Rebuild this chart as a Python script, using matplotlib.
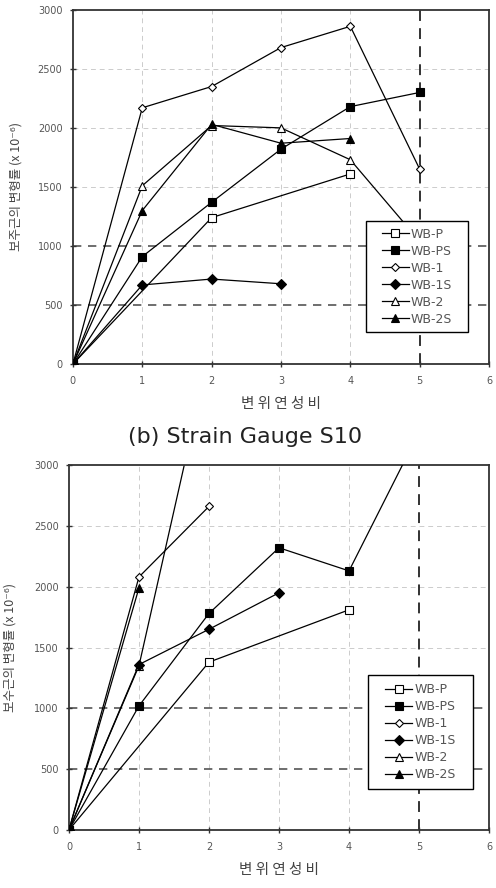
import matplotlib
matplotlib.use("Agg")
import matplotlib.pyplot as plt
from matplotlib.patches import Rectangle

plt.rcParams['font.family'] = ['Noto Sans CJK KR', 'DejaVu Sans']

# upper panel
top_series = {
    "WB-P":  ([0, 2, 4], [0, 1240, 1610]),
    "WB-PS": ([0, 1, 2, 3, 4, 5], [0, 910, 1370, 1820, 2180, 2300]),
    "WB-1":  ([0, 1, 2, 3, 4, 5], [0, 2170, 2350, 2680, 2860, 1650]),
    "WB-1S": ([0, 1, 2, 3], [0, 670, 720, 680]),
    "WB-2":  ([0, 1, 2, 3, 4, 5], [0, 1510, 2020, 2000, 1730, 1040]),
    "WB-2S": ([0, 1, 2, 3, 4], [0, 1300, 2030, 1870, 1910]),
}

# lower panel
bot_series = {
    "WB-P":  ([0, 2, 4], [0, 1380, 1810]),
    "WB-PS": ([0, 1, 2, 3, 4, 5], [0, 1020, 1780, 2320, 2130, 3270]),
    "WB-1":  ([0, 1, 2], [0, 2080, 2660]),
    "WB-1S": ([0, 1, 2, 3], [0, 1360, 1650, 1950]),
    "WB-2":  ([0, 1, 2], [0, 1350, 3900]),
    "WB-2S": ([0, 1], [0, 1990]),
}

styles = {
    "WB-P":  dict(marker="s", mfc="white", ms=5.5, zorder=3),
    "WB-PS": dict(marker="s", mfc="black", ms=6, zorder=3),
    "WB-1":  dict(marker="D", mfc="white", ms=4.5, zorder=3),
    "WB-1S": dict(marker="D", mfc="black", ms=5, zorder=4),
    "WB-2":  dict(marker="^", mfc="white", ms=5.5, zorder=2.5),
    "WB-2S": dict(marker="^", mfc="black", ms=6, zorder=3),
}

xticks = [0, 1, 2, 3, 4, 5, 6]
yticks = [0, 500, 1000, 1500, 2000, 2500, 3000]


def draw_panel(ax, series, ylabel, ylabel_x, box):
    ax.set_xlim(0, 6)
    ax.set_ylim(0, 3000)
    # light grid
    for x in [1, 2, 3, 4]:
        ax.axvline(x, color="#cccccc", lw=0.7, ls=(0, (5, 4)), zorder=0)
    for y in [1500, 2000, 2500]:
        ax.axhline(y, color="#cccccc", lw=0.7, ls=(0, (5, 4)), zorder=0)
    # heavy reference lines
    for y in [500, 1000]:
        ax.axhline(y, color="#555555", lw=1.2, ls=(0, (5, 4)), zorder=0)
    ax.axvline(5, color="#222222", lw=1.3, ls=(0, (6, 4)), zorder=0)

    for name, (xs, ys) in series.items():
        ax.plot(xs, ys, color="black", lw=0.9, mec="black", mew=0.8,
                label=name, **styles[name])

    ax.set_xticks(xticks)
    ax.set_yticks(yticks)
    ax.tick_params(direction="inout", length=5, width=1, labelsize=7,
                   labelcolor="#555555", color="#333333")
    ax.tick_params(axis="x", pad=6)
    ax.tick_params(axis="y", pad=5)
    for lab in ax.get_xticklabels() + ax.get_yticklabels():
        lab.set_family("DejaVu Sans")
    for s in ax.spines.values():
        s.set_linewidth(1.3)
        s.set_color("#333333")
    ax.set_xlabel("변 위 연 성 비", fontsize=10.5, color="#444444", labelpad=8)
    ax.set_ylabel(ylabel, fontsize=9, color="#444444")
    ax.yaxis.set_label_coords(ylabel_x, 0.5)

    # legend frame
    x0, y0, x1, y1 = box
    ax.add_patch(Rectangle((x0, y0), x1 - x0, y1 - y0, transform=ax.transAxes,
                           facecolor="white", edgecolor="black", lw=1.0,
                           zorder=6, clip_on=False))
    leg = ax.legend(loc="center", bbox_to_anchor=((x0 + x1) / 2, (y0 + y1) / 2),
                    frameon=False, handlelength=2.15,
                    handletextpad=0.2, labelspacing=0.32, borderpad=0.0,
                    labelcolor="#555555", prop={"family": "DejaVu Sans", "size": 9})
    leg.set_zorder(7)


fig = plt.figure(figsize=(4.96, 8.88), dpi=100)

ax1 = fig.add_axes([0.147, 0.590, 0.839, 0.399])
draw_panel(ax1, top_series, "보주근의 변형률 (x 10⁻⁶)", -0.122,
           (0.704, 0.090, 0.950, 0.404))

ax2 = fig.add_axes([0.139, 0.0653, 0.847, 0.411])
draw_panel(ax2, bot_series, "보수근의 변형률 (x 10⁻⁶)", -0.124,
           (0.712, 0.112, 0.962, 0.425))

fig.text(0.494, 0.508, "(b) Strain Gauge S10", ha="center", va="center",
         fontsize=16, color="#222222", family="DejaVu Sans")
# caption of the next panel, cut off by the bottom edge as in the source
fig.text(0.494, -0.001, "(c) Strain Gauge S11", ha="center", va="top",
         fontsize=16, color="#222222", family="DejaVu Sans")

fig.savefig("out.png", dpi=100)
